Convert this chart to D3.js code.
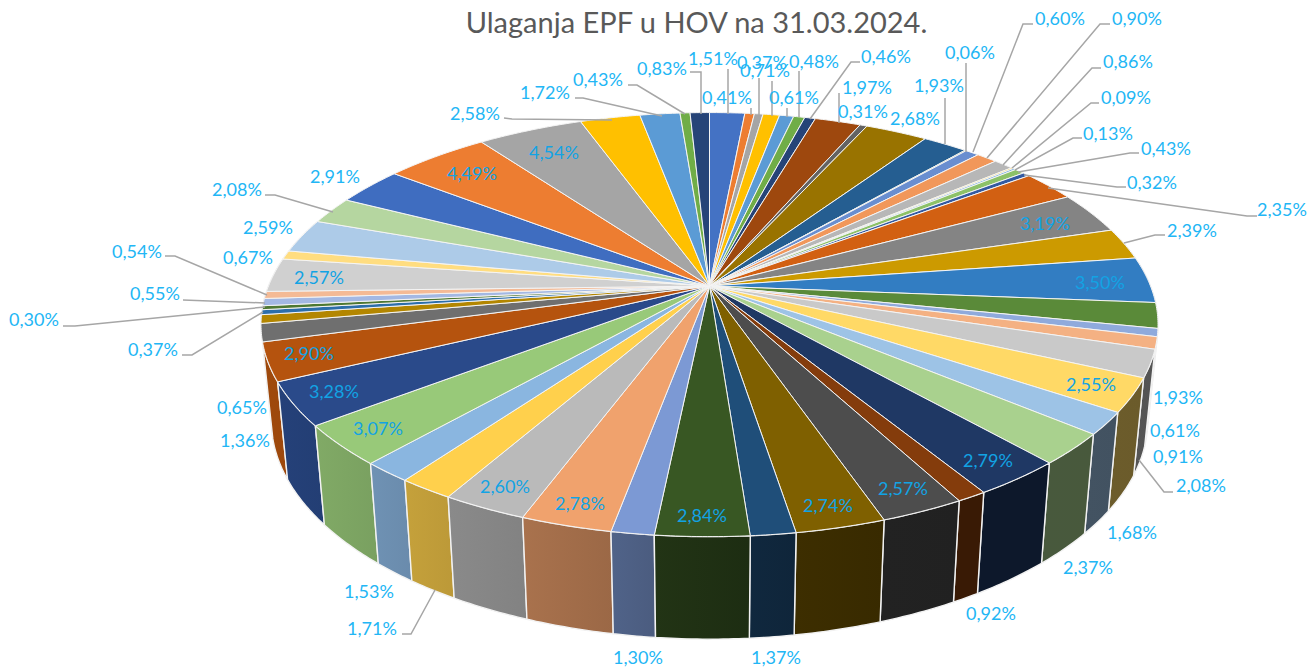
<!DOCTYPE html>
<html><head><meta charset="utf-8">
<script src="https://cdn.jsdelivr.net/npm/d3@7/dist/d3.min.js"></script>
<style>html,body{margin:0;background:#fff}svg{display:block}</style></head>
<body><svg id="c" width="1310" height="668"></svg>
<script>
const title = "Ulaganja EPF u HOV na 31.03.2024.";
const values = [1.51,0.41,0.37,0.71,0.61,0.48,0.46,1.97,0.31,2.68,1.93,0.06,0.60,0.90,0.86,0.09,0.13,0.43,0.32,2.35,3.19,2.39,3.50,1.93,0.61,0.91,2.08,2.55,1.68,2.37,2.79,0.92,2.57,2.74,1.37,2.84,1.30,2.78,2.60,1.71,1.53,3.07,3.28,2.90,1.36,0.65,0.37,0.30,0.55,0.54,2.57,0.67,2.59,2.08,2.91,4.49,4.54,2.58,1.72,0.43,0.83];
const colors = ["#4472C4","#ED7D31","#A5A5A5","#FFC000","#5B9BD5","#70AD47","#264478","#9E480E","#636363","#997300","#255E91","#43682B","#698ED0","#F1975A","#B7B7B7","#FFCD33","#7CAFDD","#8CC168","#335AA1","#D26012","#848484","#CC9A00","#327DC2","#5A8A39","#8FAADC","#F4B183","#C9C9C9","#FFD966","#9DC3E6","#A9D18E","#1F3864","#843C0C","#4D4D4D","#7F6000","#1F4E79","#385723","#7C99D4","#F0A26D","#BABABA","#FFD04C","#8AB6E0","#98C979","#2A4A8A","#B5530E","#6F6F6F","#B38600","#2C6EAA","#4E7832","#A3B8E3","#F4BA95","#D0D0D0","#FFDD80","#ADCBE8","#B5D6A0","#3F6DC0","#ED7D31","#A5A5A5","#FFC000","#5B9BD5","#70AD47","#264478"];
// label centres, same order as values
const labelX = [713,727,762,765,794,814,886,867,863,915,939,970,1060,1137,1128,1126,1108,1166,1152,1282,1045,1192,1100,1178,1175,1178,1201,1091,1132,1088,988,991,903,828,776,702,638,580,505,372,369,378,334,309,245,242,153,34,155,137,319,248,268,237,335,472,554,475,545,598,662];
const labelY = [59,98,63,71,98,62,57,88,112,119,86,53,19,19,62,98,134,149,183,210,224,231,283,398,431,457,486,385,533,568,461,614,489,506,658,516,658,504,487,629,592,429,392,354,441,408,350,320,294,252,278,258,228,190,177,174,153,114,93,80,69];
// labels that sit on a slice
const onSlice = new Set([20,22,27,30,32,33,35,37,38,41,42,43,50,55,56]);
// leader polylines: [value index, points]
const leaders = [
 [0,[[728,69],[728,114]]],[1,[[751,108],[751,115]]],[2,[[759,78],[759,115]]],[3,[[772,81],[772,116]]],
 [4,[[787,108],[787,117]]],[5,[[799,71],[799,117]]],[6,[[860,62],[851,62],[810,119]]],[7,[[839,93],[839,123]]],
 [10,[[945,98],[945,144]]],[11,[[966,63],[966,152]]],[12,[[1033,24],[1023,24],[973,152]]],[13,[[1110,24],[1100,24],[987,158]]],
 [14,[[1101,68],[1092,68],[1003,165]]],[15,[[1099,103],[1091,103],[1012,168]]],[16,[[1082,138],[1073,138],[1015,170]]],
 [17,[[1139,153],[1130,153],[1018,172]]],[18,[[1126,187],[1117,187],[1024,175]]],[19,[[1257,216],[1247,216],[1048,188]]],
 [21,[[1165,235],[1155,235],[1124,243]]],[26,[[1173,492],[1164,492],[1139,460]]],[39,[[402,634],[411,634],[435,590]]],
 [46,[[182,355],[192,355],[263,312]]],[47,[[63,326],[75,326],[265,307]]],[48,[[183,300],[265,303]]],[49,[[165,256],[175,256],[267,295]]],
 [53,[[265,195],[275,195],[333,212]]],[57,[[504,118],[512,119],[612,120]]],[58,[[575,98],[583,98],[662,116]]],
 [59,[[628,85],[637,85],[685,114]]],[60,[[690,72],[701,72],[701,114]]]
];

const svg = d3.select("#c");
const defs = svg.append("defs");
const arcs = d3.pie().sort(null).value(d=>d)(values);

// perspective discs
const cx = 709.5, persp = 0.182;
const topDisc = {cy:286, a:441, b:205};
const botDisc = {cy:381, a:441*0.977, b:205*1.03};
const project = (disc,t)=>{
  const u=Math.sin(t), v=-Math.cos(t), w=1-persp*v;
  return [cx+disc.a*u/w, disc.cy+disc.b*v/w];
};
const samples = (a0,a1)=>{
  const n=Math.max(2,Math.ceil((a1-a0)/0.01));
  return d3.range(n+1).map(i=>a0+(a1-a0)*i/n);
};
const line = d3.line().curve(d3.curveLinear);
const shade = d3.scaleLinear().domain([270,350,430,570,630,700,770,840,1150]).range([.88,.82,.75,.68,.63,.55,.5,.44,.42]).clamp(true);
const tint = (c,k)=>{const r=d3.rgb(c);return d3.rgb(r.r*k,r.g*k,r.b*k).formatHex();};

// walls, back to front
const front = arcs.map((d,i)=>({d,i,mid:(d.startAngle+d.endAngle)/2}))
  .filter(o=>-Math.cos(o.mid)>-0.3)
  .sort((p,q)=>(-Math.cos(p.mid))-(-Math.cos(q.mid)));
const gWalls = svg.append("g");
front.forEach(o=>{
  const ts=samples(o.d.startAngle,o.d.endAngle);
  const top=ts.map(t=>project(topDisc,t)), bot=ts.map(t=>project(botDisc,t));
  const xs=top.concat(bot).map(p=>p[0]);
  const x0=d3.min(xs), x1=d3.max(xs);
  const id="w"+o.i;
  const g=defs.append("linearGradient").attr("id",id).attr("gradientUnits","userSpaceOnUse")
    .attr("x1",x0).attr("x2",x1).attr("y1",0).attr("y2",0);
  g.append("stop").attr("offset",0).attr("stop-color",tint(colors[o.i],shade(x0)));
  g.append("stop").attr("offset",1).attr("stop-color",tint(colors[o.i],shade(x1)));
  gWalls.append("path").attr("d",line(top.concat(bot.reverse()))+"Z")
    .attr("fill",`url(#${id})`).attr("stroke","#f2f2f2").attr("stroke-width",1.4).attr("stroke-linejoin","round");
});

// top face
svg.append("g").selectAll("path").data(arcs).join("path")
  .attr("d",d=>line([[cx,topDisc.cy]].concat(samples(d.startAngle,d.endAngle).map(t=>project(topDisc,t))))+"Z")
  .attr("fill",(d,i)=>colors[i]).attr("stroke","#f4f4f4").attr("stroke-width",1).attr("stroke-linejoin","round");

// leaders
svg.append("g").selectAll("path").data(leaders).join("path")
  .attr("d",d=>line(d[1])).attr("fill","none").attr("stroke","#a6a6a6").attr("stroke-width",1.5);

// labels
svg.append("g").selectAll("text").data(values).join("text")
  .attr("x",(d,i)=>labelX[i]).attr("y",(d,i)=>labelY[i]).attr("dy","0.35em")
  .attr("text-anchor","middle").attr("font-family","Lato, 'Open Sans', sans-serif").attr("font-size",18)
  .attr("fill",(d,i)=>onSlice.has(i)?"#12A3E4":"#22B6F5")
  .text(d=>d.toFixed(2).replace(".",",")+"%");

svg.append("text").attr("x",696.5).attr("y",23).attr("dy","0.35em").attr("text-anchor","middle")
  .attr("font-family","Lato, 'Open Sans', sans-serif").attr("font-size",29).attr("fill","#595959").text(title);
</script></body></html>
